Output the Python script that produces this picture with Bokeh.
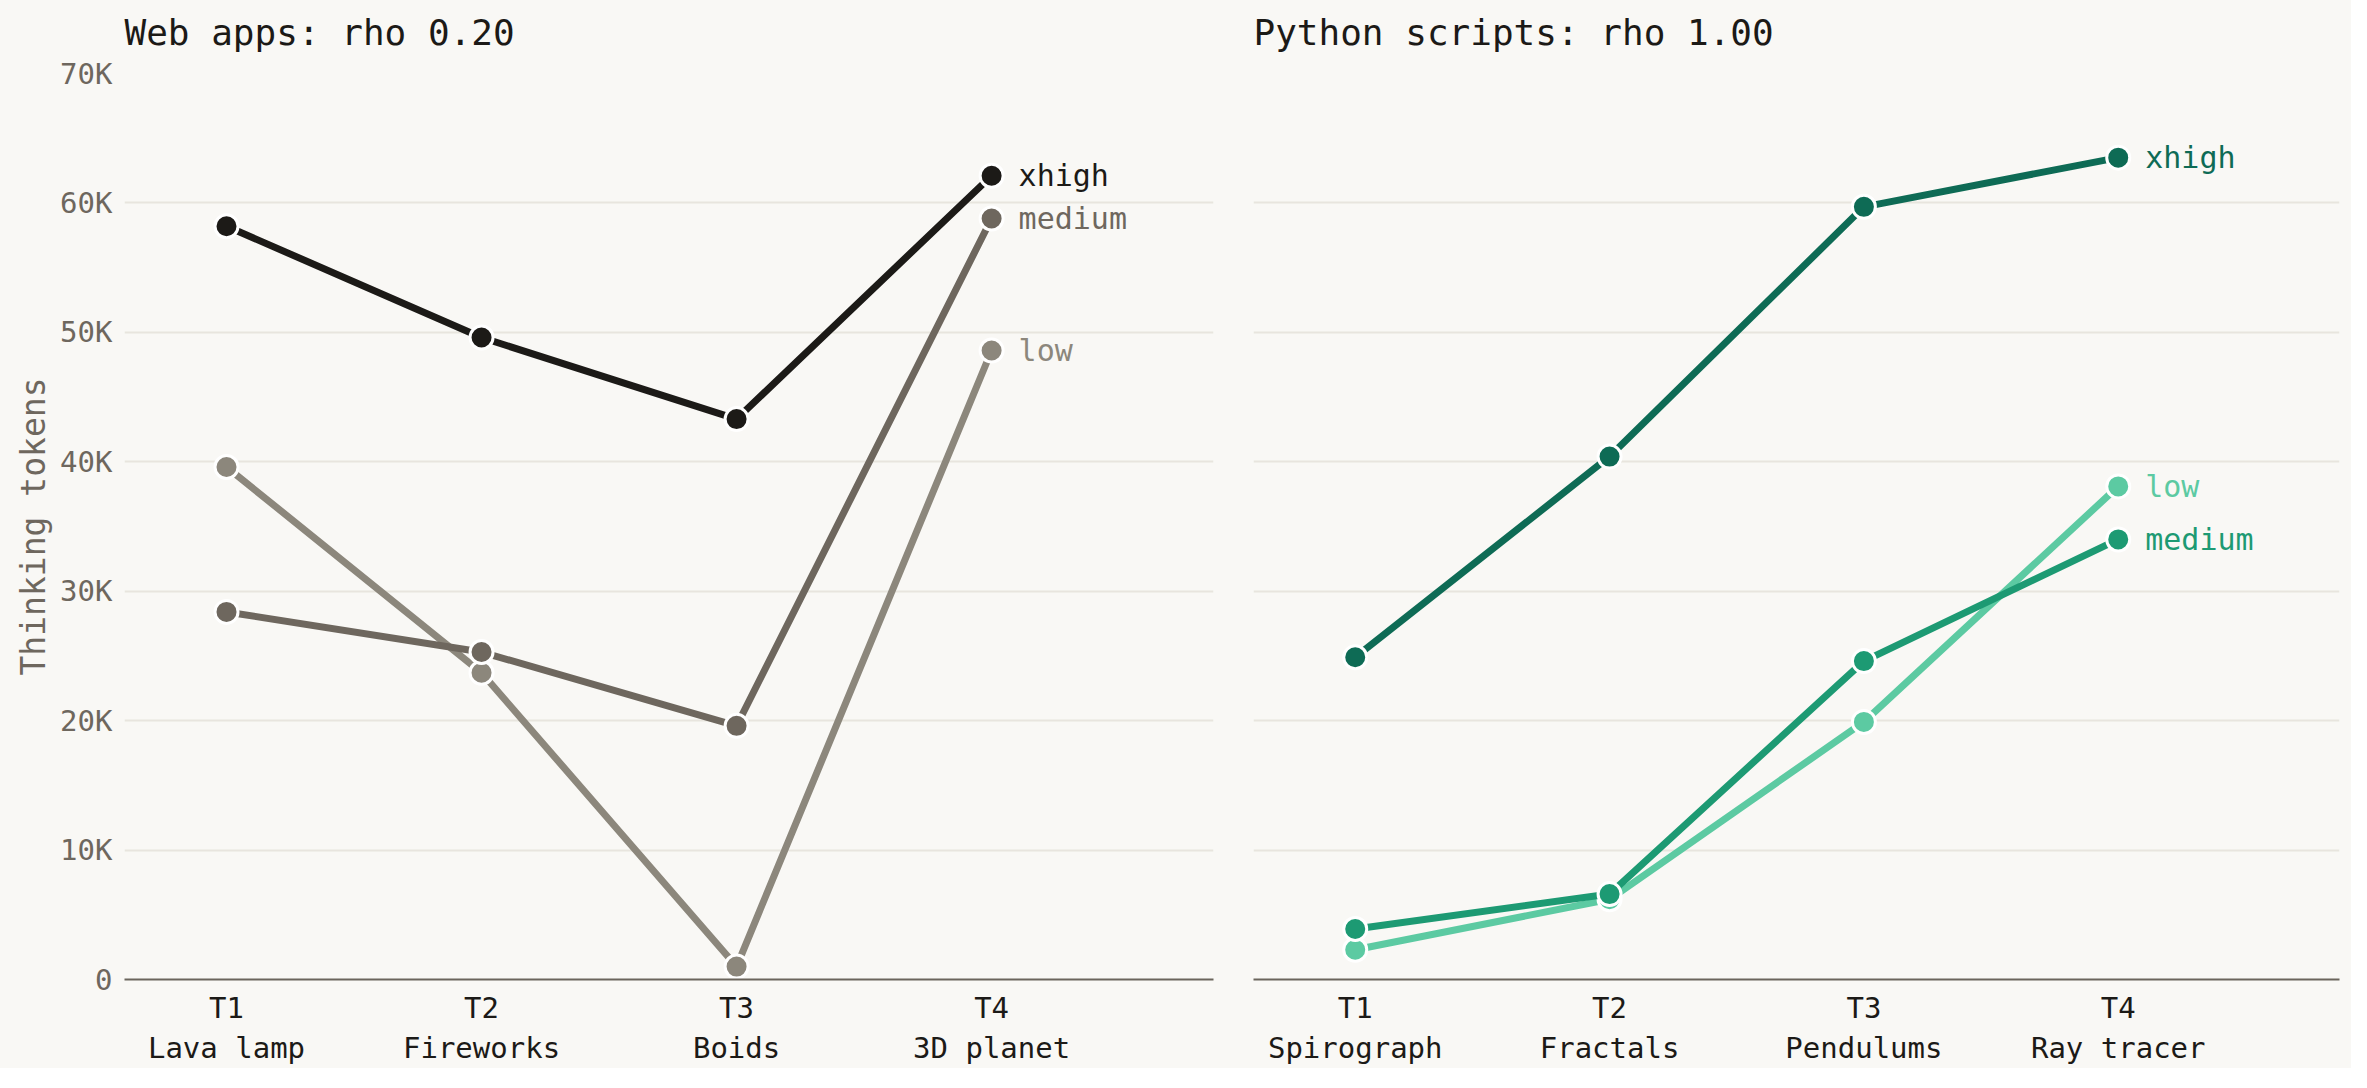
from bokeh.plotting import figure
from bokeh.models import Range1d, FixedTicker, ColumnDataSource
from bokeh.layouts import row
from bokeh.embed import file_html
from bokeh.resources import INLINE

# data
task_ids = [0, 1, 2, 3]
web_tasks = ["T1\nLava lamp", "T2\nFireworks", "T3\nBoids", "T4\n3D planet"]
py_tasks = ["T1\nSpirograph", "T2\nFractals", "T3\nPendulums", "T4\nRay tracer"]
levels = ["low", "medium", "xhigh"]

web_low = [39600, 23700, 1000, 48600]
web_medium = [28400, 25300, 19600, 58800]
web_xhigh = [58200, 49600, 43300, 62100]

py_low = [2300, 6200, 19900, 38100]
py_medium = [3900, 6600, 24600, 34000]
py_xhigh = [24900, 40400, 59700, 63500]

y_ticks = [0, 10000, 20000, 30000, 40000, 50000, 60000, 70000]
y_tick_labels = ["0", "10K", "20K", "30K", "40K", "50K", "60K", "70K"]

web_colors = {"low": "#8c877c", "medium": "#6e675e", "xhigh": "#1c1a17"}
py_colors = {"low": "#5ccaa2", "medium": "#1d9a73", "xhigh": "#0e6b55"}

BG = "#f9f8f5"
FONT = "DejaVu Sans Mono"


def make_panel(title, tasks, series, colors, width, left_border, right_border, show_y):
    p = figure(width=width, height=1080, output_backend="svg", toolbar_location=None,
               x_range=Range1d(-0.4, 3.87), y_range=Range1d(0, 70000),
               min_border_left=left_border, min_border_right=right_border,
               min_border_top=85, min_border_bottom=74)
    p.background_fill_color = BG
    p.border_fill_color = BG
    p.outline_line_color = None

    p.title.text = title
    p.title.text_font = FONT
    p.title.text_font_size = "36px"
    p.title.text_font_style = "normal"
    p.title.text_color = "#1c1a17"
    p.title.align = "left"
    p.title.standoff = 41

    p.xaxis.ticker = FixedTicker(ticks=task_ids)
    p.xaxis.major_label_overrides = {i: t for i, t in zip(task_ids, tasks)}
    p.xaxis.major_label_text_font = FONT
    p.xaxis.major_label_text_font_size = "29px"
    p.xaxis.major_label_text_color = "#1c1a17"
    p.xaxis.major_label_standoff = 5
    p.xaxis.axis_line_color = "#6b655c"
    p.xaxis.axis_line_width = 2
    p.xaxis.major_tick_line_color = None
    p.xaxis.minor_tick_line_color = None
    p.xgrid.grid_line_color = None

    p.yaxis.ticker = FixedTicker(ticks=y_ticks)
    p.ygrid.ticker = FixedTicker(ticks=y_ticks)
    p.ygrid.grid_line_color = "#e8e5de"
    p.ygrid.grid_line_width = 2
    if show_y:
        p.yaxis.major_label_overrides = {v: s for v, s in zip(y_ticks, y_tick_labels)}
        p.yaxis.major_label_text_font = FONT
        p.yaxis.major_label_text_font_size = "29px"
        p.yaxis.major_label_text_color = "#6e675e"
        p.yaxis.major_label_standoff = 6
        p.yaxis.axis_line_color = None
        p.yaxis.major_tick_line_color = None
        p.yaxis.minor_tick_line_color = None
        p.yaxis.axis_label = "Thinking tokens"
        p.yaxis.axis_label_text_font = FONT
        p.yaxis.axis_label_text_font_size = "33px"
        p.yaxis.axis_label_text_font_style = "normal"
        p.yaxis.axis_label_text_color = "#6e675e"
        p.yaxis.axis_label_standoff = 4
    else:
        p.yaxis.visible = False

    for lvl in levels:
        vals = series[lvl]
        src = ColumnDataSource(dict(x=task_ids, y=vals))
        p.line("x", "y", source=src, line_color=colors[lvl], line_width=7)
        p.scatter("x", "y", source=src, size=23, fill_color=colors[lvl],
                  line_color="white", line_width=3)
        p.text(x=[task_ids[-1]], y=[vals[-1]], text=[lvl], x_offset=27,
               text_baseline="middle", text_align="left", text_color=colors[lvl],
               text_font={"value": FONT}, text_font_size="30px")
    return p


p1 = make_panel("Web apps: rho 0.20", web_tasks,
                {"low": web_low, "medium": web_medium, "xhigh": web_xhigh},
                web_colors, 1231, 124, 18, True)
p2 = make_panel("Python scripts: rho 1.00", py_tasks,
                {"low": py_low, "medium": py_medium, "xhigh": py_xhigh},
                py_colors, 1120, 22, 12, False)

p = row(p1, p2)
# pull the row up a little so the titles sit higher above the frames
p.styles = {"background-color": BG, "margin-top": "-12px"}

open("out.html", "w").write(file_html(p, INLINE))
